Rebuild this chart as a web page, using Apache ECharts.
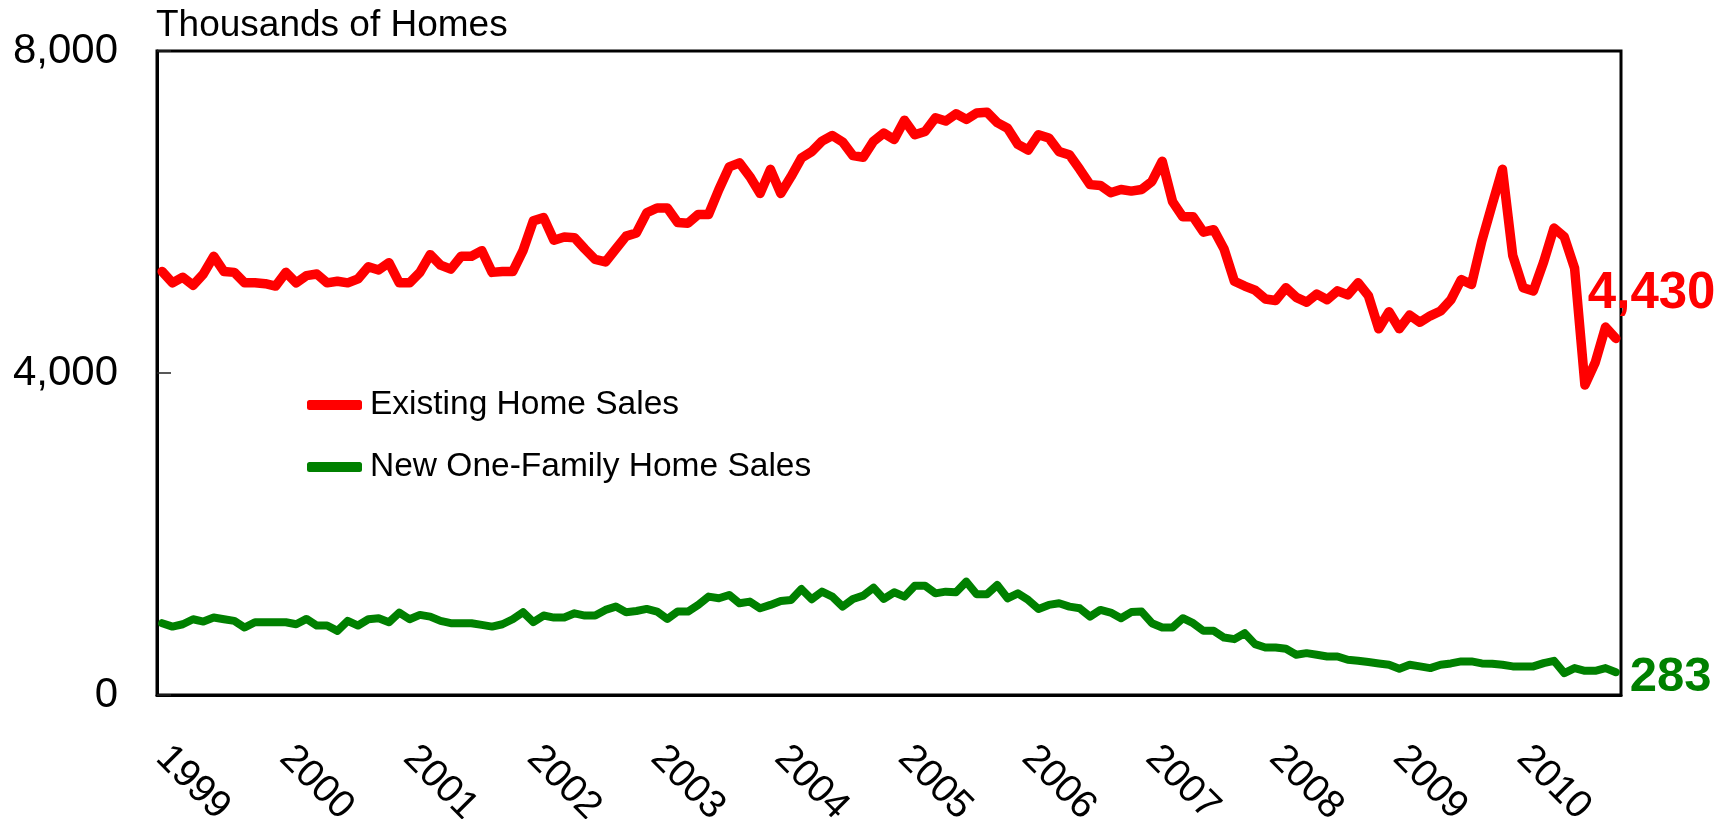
<!DOCTYPE html>
<html>
<head>
<meta charset="utf-8">
<script src="https://cdn.jsdelivr.net/npm/echarts@6/dist/echarts.min.js"></script>
<style>
  html, body { margin: 0; padding: 0; background: #fff; }
  #chart { width: 1720px; height: 819px; }
</style>
</head>
<body>
<div id="chart"></div>
<script>
  // monthly data, Jan 1999 .. Oct 2010 (thousands of homes, SAAR)
  var years = ['1999', '2000', '2001', '2002', '2003', '2004', '2005', '2006', '2007', '2008', '2009', '2010']
  var lastMonth = 10 // Oct 2010

  var existingSales = [
    5260, 5120, 5190, 5090, 5230, 5450, 5260, 5250, 5120, 5120, 5110, 5080,
    5250, 5120, 5210, 5230, 5120, 5140, 5120, 5170, 5320, 5280, 5370, 5120,
    5120, 5250, 5470, 5340, 5290, 5450, 5450, 5520, 5250, 5260, 5260, 5520,
    5890, 5930, 5650, 5690, 5680, 5540, 5410, 5380, 5540, 5700, 5740, 5990,
    6050, 6050, 5870, 5860, 5970, 5970, 6280, 6560, 6610, 6440, 6230, 6530,
    6230, 6440, 6670, 6750, 6880, 6950, 6870, 6700, 6680, 6880, 6980, 6900,
    7140, 6960, 7000, 7170, 7130, 7220, 7150, 7230, 7240, 7110, 7040, 6840,
    6770, 6960, 6920, 6750, 6710, 6530, 6340, 6330, 6240, 6280, 6260, 6280,
    6380, 6630, 6130, 5940, 5940, 5750, 5780, 5540, 5140, 5080, 5030, 4920,
    4900, 5060, 4940, 4880, 4980, 4910, 5020, 4970, 5120, 4960, 4550, 4760,
    4550, 4720, 4630, 4710, 4770, 4910, 5160, 5100, 5640, 6090, 6530, 5460,
    5060, 5020, 5380, 5800, 5690, 5300, 3850, 4130, 4570, 4430
  ]

  var newHomeSales = [
    892, 850, 879, 941, 912, 962, 941, 921, 838, 904, 904, 904,
    904, 879, 945, 863, 863, 797, 921, 863, 941, 954, 904, 1024,
    941, 995, 974, 921, 892, 892, 892, 871, 850, 879, 941, 1028,
    904, 987, 962, 962, 1015, 987, 987, 1057, 1098, 1028, 1044, 1069,
    1036, 945, 1036, 1036, 1119, 1222, 1201, 1243, 1139, 1160, 1077, 1119,
    1168, 1181, 1317, 1189, 1284, 1222, 1098, 1193, 1234, 1333, 1193, 1276,
    1222, 1358, 1358, 1263, 1284, 1276, 1408, 1251, 1251, 1366, 1201, 1263,
    1181, 1069, 1119, 1139, 1098, 1077, 974, 1057, 1024, 954, 1030, 1036,
    892, 838, 838, 954, 892, 797, 797, 714, 694, 768, 632, 590,
    590, 574, 500, 520, 500, 479, 479, 437, 425, 409, 392, 376,
    326, 376, 355, 334, 376, 392, 417, 417, 392, 388, 376, 355,
    355, 355, 396, 425, 272, 334, 301, 301, 334, 283
  ]

  var yTicks = [0, 4000, 8000]

  var months = []
  years.forEach(function (y, k) {
    var n = k === years.length - 1 ? lastMonth : 12
    for (var m = 1; m <= n; m++) {
      months.push(y + '-' + (m < 10 ? '0' + m : m))
    }
  })

  var font = '"Liberation Sans", Arial, Helvetica, sans-serif'

  var chart = echarts.init(document.getElementById('chart'))
  chart.setOption({
    animation: false,
    backgroundColor: '#fff',
    textStyle: { fontFamily: font },
    title: {
      text: 'Thousands of Homes',
      left: 151,
      top: 2,
      textStyle: { fontSize: 37, fontWeight: 'normal', color: '#000', fontFamily: font }
    },
    legend: {
      orient: 'vertical',
      left: 302,
      top: 383,
      itemWidth: 55,
      itemHeight: 10,
      itemGap: 28,
      icon: 'roundRect',
      textStyle: { fontSize: 33.5, color: '#000', lineHeight: 34, padding: [0, 0, 0, 3] },
      data: ['Existing Home Sales', 'New One-Family Home Sales']
    },
    grid: {
      left: 157,
      right: 99,
      top: 51,
      bottom: 124,
      outerBoundsMode: 'none',
      show: true,
      borderColor: '#000',
      borderWidth: 3
    },
    xAxis: {
      type: 'category',
      data: months,
      boundaryGap: true,
      axisLine: { lineStyle: { color: '#000', width: 3 } },
      axisTick: { interval: 11, inside: true, length: 10, lineStyle: { color: '#222', width: 1.5 } },
      axisLabel: {
        interval: 11,
        rotate: -45,
        margin: 57,
        fontSize: 39,
        color: '#000',
        formatter: function (v) { return v.slice(0, 4) }
      }
    },
    yAxis: {
      type: 'value',
      min: yTicks[0],
      max: yTicks[yTicks.length - 1],
      interval: yTicks[1] - yTicks[0],
      splitLine: { show: false },
      axisLine: { show: true, lineStyle: { color: '#000', width: 3 } },
      axisTick: { show: true, inside: true, length: 14, lineStyle: { color: '#222', width: 1.5 } },
      axisLabel: {
        fontSize: 42,
        color: '#000',
        margin: 39,
        formatter: function (v) { return v.toLocaleString('en-US') }
      }
    },
    series: [
      {
        name: 'Existing Home Sales',
        type: 'line',
        data: existingSales,
        showSymbol: false,
        symbol: 'none',
        color: '#ff0000',
        lineStyle: { width: 9.5, color: '#ff0000', cap: 'round', join: 'round' },
        endLabel: {
          show: true,
          offset: [-36, -44],
          fontSize: 51,
          fontWeight: 'bold',
          color: '#ff0000',
          formatter: function (p) { return p.value.toLocaleString('en-US') }
        },
        z: 3
      },
      {
        name: 'New One-Family Home Sales',
        type: 'line',
        data: newHomeSales,
        showSymbol: false,
        symbol: 'none',
        color: '#008000',
        lineStyle: { width: 8, color: '#008000', cap: 'round', join: 'round' },
        endLabel: {
          show: true,
          offset: [6, 5],
          fontSize: 49,
          fontWeight: 'bold',
          color: '#008000',
          formatter: function (p) { return p.value.toLocaleString('en-US') }
        },
        z: 2
      }
    ]
  })
</script>
</body>
</html>
